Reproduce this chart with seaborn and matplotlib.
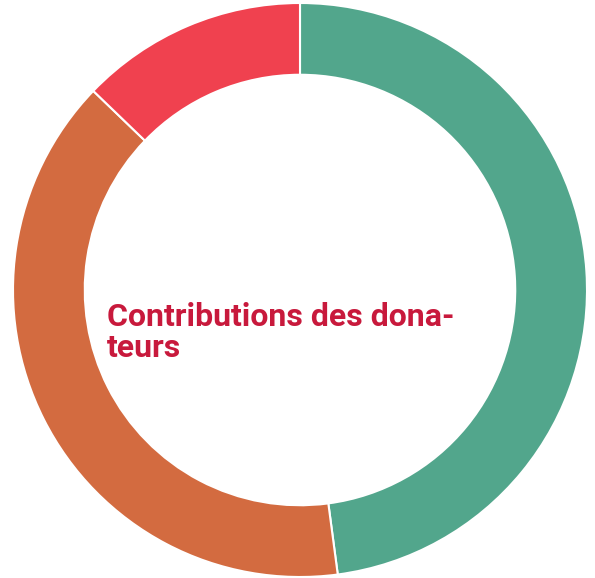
"""Donut chart: contributions des donateurs."""

import matplotlib.pyplot as plt
import seaborn as sns

SHARES = [47.9, 39.3, 12.8]
COLOURS = ["#52a68c", "#d36b40", "#f0414f"]
TITLE_LINES = ["Contributions des dona-", "teurs"]

W, H = 595, 578
CX, CY, R = 300, 288, 287  # centre and outer radius in pixels


def main() -> None:
    sns.set_style("white")
    plt.rcParams["font.family"] = ["Roboto", "DejaVu Sans"]

    fig = plt.figure(figsize=(W / 100, H / 100), dpi=100)
    ax = fig.add_axes([0, 0, 1, 1])
    ax.pie(
        SHARES,
        colors=COLOURS,
        startangle=90,
        counterclock=False,
        radius=1.0,
        wedgeprops={"width": 0.25, "edgecolor": "white", "linewidth": 1.5},
    )
    ax.set_xlim(-CX / R, (W - CX) / R)
    ax.set_ylim(-CY / R, (H - CY) / R)
    ax.set_aspect("equal")
    ax.axis("off")

    for i, line in enumerate(TITLE_LINES):
        fig.text(
            107 / W,
            1 - (326 + 31 * i) / H,
            line,
            color="#c8193c",
            fontsize=23,
            fontweight="bold",
            va="baseline",
            ha="left",
        )

    fig.savefig("out.png", dpi=100)


if __name__ == "__main__":
    main()
